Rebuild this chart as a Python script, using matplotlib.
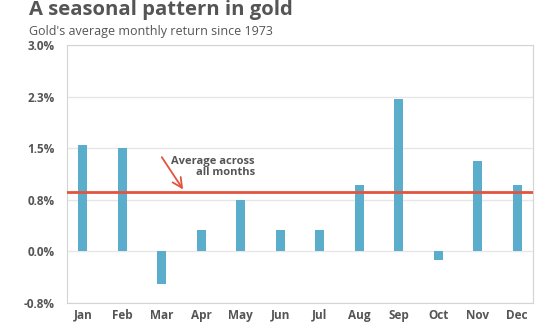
import matplotlib.pyplot as plt

# average monthly gold return since 1973 (%)
months = ['Jan', 'Feb', 'Mar', 'Apr', 'May', 'Jun',
          'Jul', 'Aug', 'Sep', 'Oct', 'Nov', 'Dec']
returns = [1.55, 1.50, -0.48, 0.31, 0.75, 0.31,
           0.31, 0.97, 2.21, -0.13, 1.31, 0.97]
average = 0.87
yticks = [-0.75, 0.0, 0.75, 1.5, 2.25, 3.0]
ytick_labels = ['-0.8%', '0.0%', '0.8%', '1.5%', '2.3%', '3.0%']

txt = '#555555'
plt.rcParams['font.family'] = ['Open Sans', 'DejaVu Sans']

fig = plt.figure(figsize=(5.54, 3.27), dpi=100)
ax = fig.add_axes([67 / 554, 1 - 303 / 327, 466 / 554, 258 / 327])

x = range(len(months))
ax.bar(x, returns, width=0.23, color='#5aaecb', zorder=3)
ax.axhline(average, color='#e2543f', lw=2, zorder=4)

ax.set_xlim(-0.4, 11.4)
ax.set_ylim(-0.75, 3.0)
ax.set_yticks(yticks)
ax.set_yticklabels(ytick_labels)
ax.set_xticks(list(x))
ax.set_xticklabels(months)
ax.tick_params(length=0, labelsize=8.5, labelcolor=txt)
ax.tick_params(axis='y', pad=9)
ax.tick_params(axis='x', pad=4)
for lab in ax.get_xticklabels() + ax.get_yticklabels():
    lab.set_fontweight('bold')
ax.grid(axis='y', color='#e6e6e6', lw=1, zorder=0)
for s in ax.spines.values():
    s.set_color('#d4d4d4')

# label and arrow pointing at the average line
ax.text(4.36, 1.23, 'Average across\nall months', ha='right', va='center',
        fontsize=8, fontweight='bold', color=txt, linespacing=0.95)
ax.annotate('', xy=(2.54, average + 0.03), xytext=(2.0, 1.37),
            arrowprops=dict(arrowstyle='->,head_length=0.7,head_width=0.35',
                            color='#e2543f', lw=1.3, shrinkA=0, shrinkB=0))

fig.text(29 / 554, 1 - 10 / 327, 'A seasonal pattern in gold', fontsize=14.6,
         fontweight='bold', color=txt, va='center')
fig.text(29 / 554, 1 - 32 / 327, "Gold's average monthly return since 1973",
         fontsize=9.0, color=txt, va='center')

fig.savefig('out.png', dpi=100)
